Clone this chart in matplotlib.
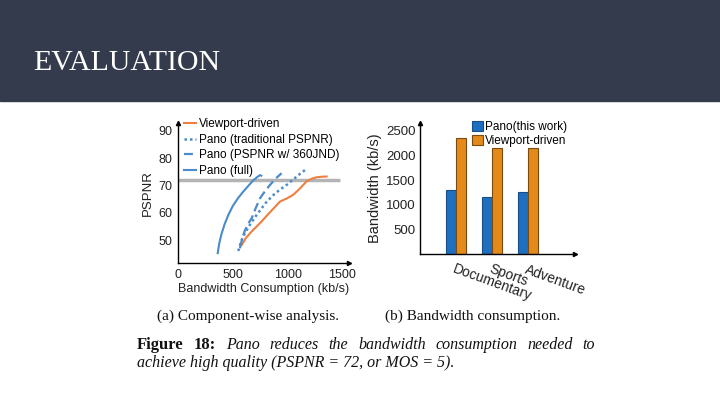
import matplotlib
matplotlib.use("Agg")
import matplotlib.pyplot as plt
from matplotlib.patches import Rectangle

plt.rcParams['font.family'] = ['Liberation Sans', 'DejaVu Sans']

# left panel: PSPNR vs bandwidth
full_x = [362, 375, 395, 425, 459, 500, 550, 596, 640, 685, 720, 748, 760]
full_y = [45.2, 48.5, 52, 55.8, 59.2, 62.5, 65.5, 67.8, 69.8, 71.8, 73, 73.8, 73.6]
trad_x = [550, 575, 610, 656, 710, 760, 808, 870, 930, 991, 1060, 1120, 1173]
trad_y = [46, 49.5, 52.5, 55.6, 58.8, 61.5, 64, 66.5, 68.5, 70.2, 72.5, 74.5, 76.1]
jnd_x = [565, 585, 610, 640, 672, 710, 748, 795, 839, 890, 945]
jnd_y = [47, 50.5, 53.5, 56, 58, 61.8, 65.3, 68, 70.2, 72.5, 74.5]
vp_x = [581, 620, 680, 748, 830, 930, 990, 1052, 1110, 1173, 1220, 1264, 1310, 1356]
vp_y = [48.2, 50.8, 53.5, 56.2, 59.8, 64.1, 65.2, 66.6, 68.8, 71.5, 72.5, 73, 73.2, 73.3]
target_pspnr = 72

# right panel: bandwidth per genre
genres = ['Documentary', 'Sports', 'Adventure']
pano_bw = [1300, 1150, 1250]
vp_bw = [2350, 2150, 2150]

blue = '#4a8bcb'
orange = '#ee7f3e'
txt = '#222222'

fig = plt.figure(figsize=(7.2, 4.05), dpi=100)
fig.patches.append(Rectangle((0, 1 - 101 / 405), 1, 101 / 405, transform=fig.transFigure,
                             color='#333b4d', zorder=0))
fig.text(33 / 720, 1 - 63 / 405, 'EVALUATION', color='white', fontsize=21.5,
         family='Liberation Serif', va='center', ha='left')


def arrows(ax):
    ax.plot(1, 0, '>', color='k', ms=3, transform=ax.transAxes, clip_on=False)
    ax.plot(0, 1, '^', color='k', ms=3, transform=ax.transAxes, clip_on=False)
    for s in ['top', 'right']:
        ax.spines[s].set_visible(False)
    for s in ['left', 'bottom']:
        ax.spines[s].set_linewidth(1.0)


# ---- (a)
ax1 = fig.add_axes([178 / 720, 1 - 263 / 405, 171 / 720, 140 / 405])
ax1.hlines(target_pspnr, 0, 1480, color='#b4b4b4', lw=2.5, zorder=1)
ax1.plot(vp_x, vp_y, color=orange, lw=1.5, label='Viewport-driven')
ax1.plot(trad_x, trad_y, color=blue, lw=1.8, ls=(0, (1, 1.2)), label='Pano (traditional PSPNR)')
ax1.plot(jnd_x, jnd_y, color=blue, lw=1.6, ls=(0, (4, 2)), label='Pano (PSPNR w/ 360JND)')
ax1.plot(full_x, full_y, color=blue, lw=1.5, label='Pano (full)')
ax1.set_xlim(0, 1560)
ax1.set_ylim(41.6, 92.9)
ax1.set_xticks([0, 500, 1000, 1500])
ax1.set_yticks([50, 60, 70, 80, 90])
ax1.tick_params(labelsize=9, length=0, pad=4, colors=txt)
ax1.set_xlabel('Bandwidth Consumption (kb/s)', fontsize=9, color=txt, labelpad=2)
ax1.set_ylabel('PSPNR', fontsize=9.5, color=txt, labelpad=3)
arrows(ax1)
ax1.legend(loc='upper left', bbox_to_anchor=(0.0, 1.075), frameon=False, fontsize=8.5,
           handlelength=1.0, handletextpad=0.3, labelspacing=0.3, borderpad=0)

# ---- (b)
ax2 = fig.add_axes([420 / 720, 1 - 254 / 405, 155 / 720, 131 / 405])
pos = [1, 2, 3]
w = 0.27
ax2.bar([p - w / 2 for p in pos], pano_bw, w, color='#1f6fc0', edgecolor='#184f88',
        lw=0.8, label='Pano(this work)')
ax2.bar([p + w / 2 for p in pos], vp_bw, w, color='#e38a1b', edgecolor='#7a4a10',
        lw=0.8, label='Viewport-driven')
ax2.set_xlim(0, 4.3)
ax2.set_ylim(0, 2660)
ax2.set_yticks([500, 1000, 1500, 2000, 2500])
ax2.set_xticks(pos)
ax2.set_xticklabels(genres, rotation=-20, ha='left', va='top', rotation_mode='anchor')
ax2.tick_params(axis='x', labelsize=10, length=0, pad=6, colors=txt)
ax2.tick_params(axis='y', labelsize=9.5, length=0, pad=3, colors=txt)
ax2.set_ylabel('Bandwidth (kb/s)', fontsize=10.5, color=txt, labelpad=3)
arrows(ax2)
ax2.legend(loc='upper left', bbox_to_anchor=(0.3, 1.06), frameon=False, fontsize=8.5,
           handlelength=0.9, handleheight=0.9, handletextpad=0.2, labelspacing=0.15,
           borderpad=0)

# captions
serif = 'Liberation Serif'
ink = '#111111'
fig.text(248 / 720, 1 - 316 / 405, '(a) Component-wise analysis.', family=serif,
         fontsize=11, ha='center', va='center', color=ink)
fig.text(473 / 720, 1 - 316 / 405, '(b) Bandwidth consumption.', family=serif,
         fontsize=11, ha='center', va='center', color=ink)

# first caption line, justified between x=137 and x=595
line1 = [('Figure', 'bold', 'normal', 12), ('18:', 'bold', 'normal', 12)]
line1 += [(wd, 'normal', 'italic', 11.5)
          for wd in 'Pano reduces the bandwidth consumption needed to'.split()]
renderer = fig.canvas.get_renderer()
texts = []
for wd, wt, st, fs in line1:
    t = fig.text(0, 1 - 345 / 405, wd, family=serif, weight=wt, style=st, fontsize=fs,
                 ha='left', va='center', color=ink)
    texts.append(t)
widths = [t.get_window_extent(renderer).width for t in texts]
gap = (595 - 137 - sum(widths)) / (len(texts) - 1)
x = 137
for t, wpx in zip(texts, widths):
    t.set_x(x / 720)
    x += wpx + gap
fig.text(137 / 720, 1 - 363 / 405, 'achieve high quality (PSPNR = 72, or MOS = 5).',
         family=serif, style='italic', fontsize=11.5, ha='left', va='center', color=ink)

fig.savefig('out.png', dpi=100)
